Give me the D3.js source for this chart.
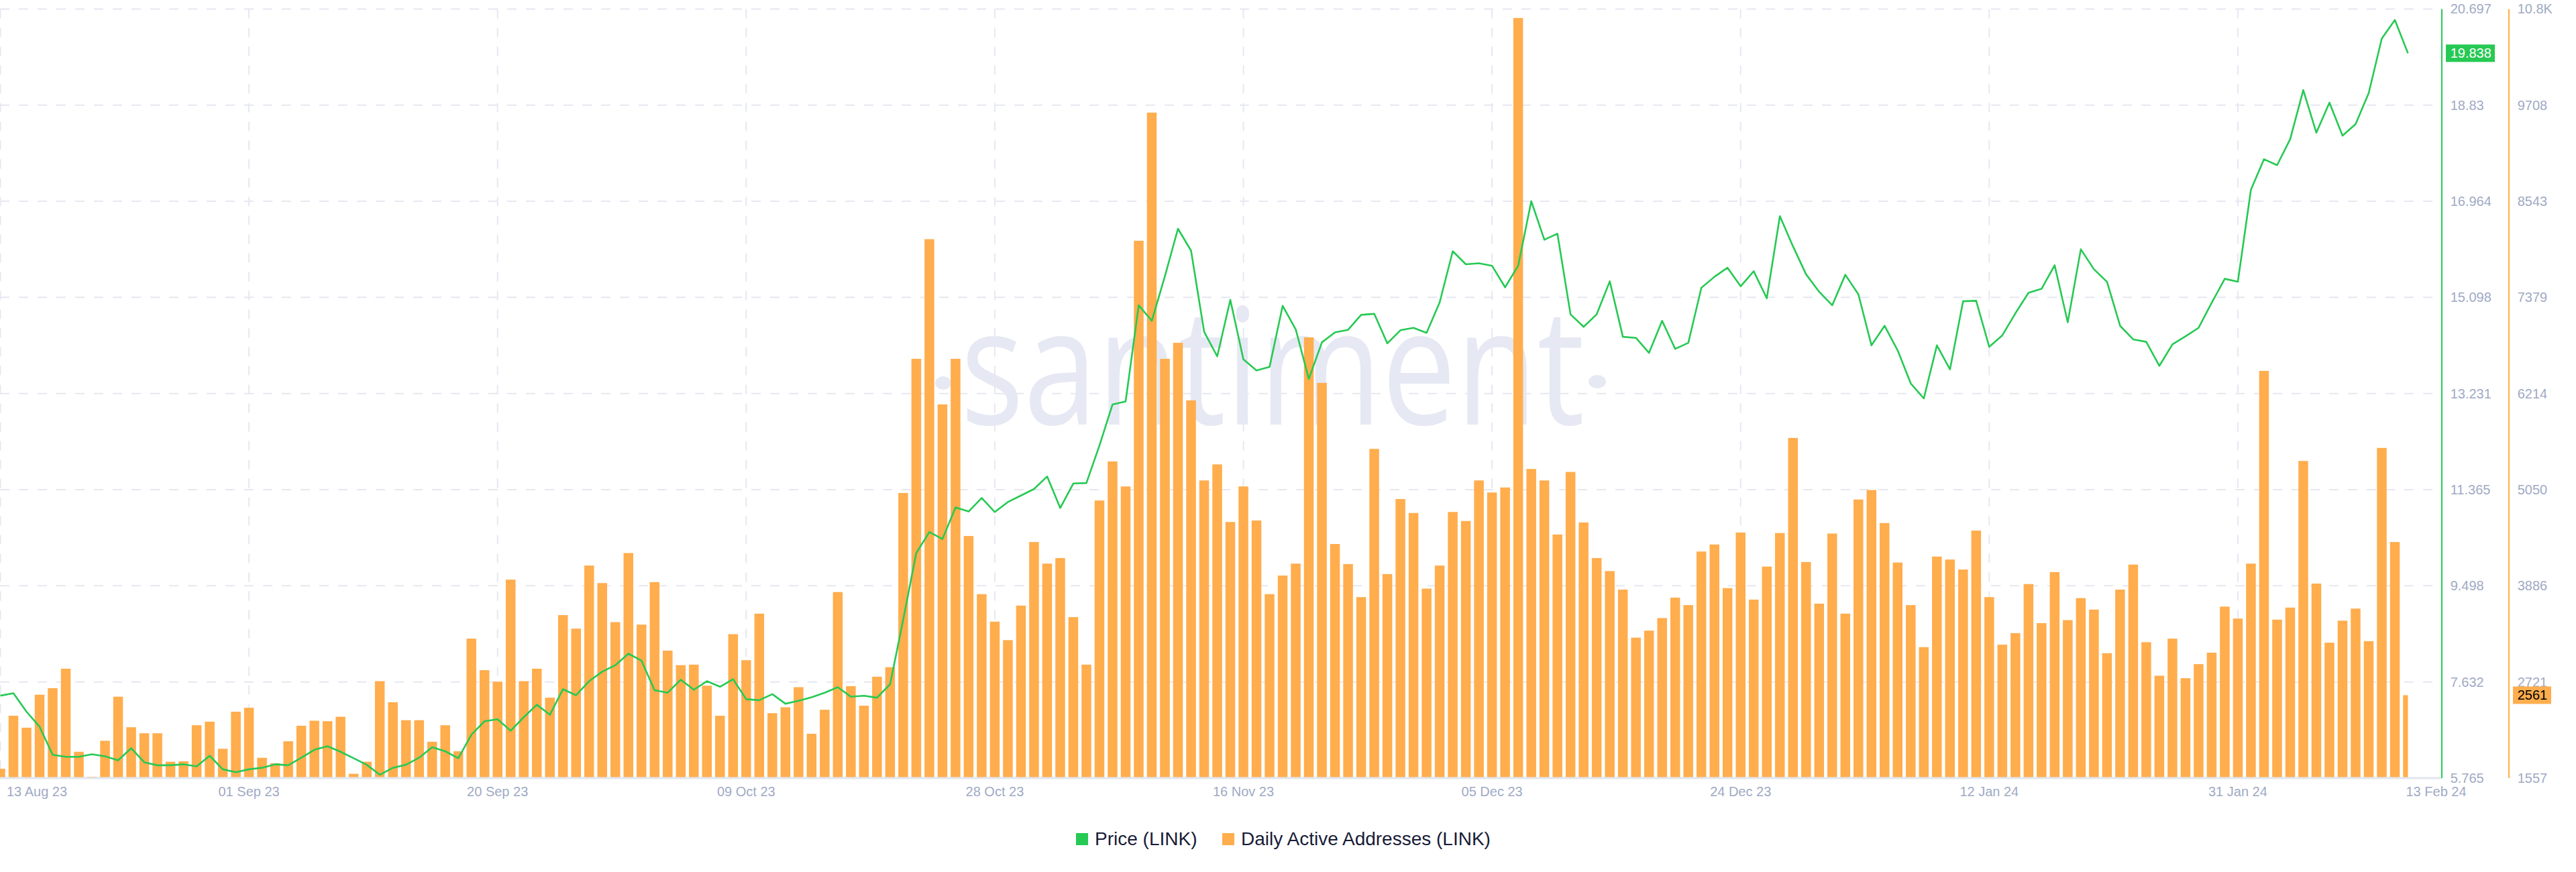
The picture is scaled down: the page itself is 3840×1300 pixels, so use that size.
<!DOCTYPE html>
<html>
<head>
<meta charset="utf-8">
<script src="https://cdn.jsdelivr.net/npm/d3@7"></script>
<style>
  html, body { margin: 0; padding: 0; background: #ffffff; }
  svg { display: block; }
</style>
</head>
<body>
<div id="chart"></div>
<script>
// ---------------- DATA ----------------
const startDate = "2023-08-13"; // first daily point, one point per day

const activeAddresses = [
  1670, 2312, 2167, 2567, 2646, 2882, 1876, 1573, 2009, 2543,
  2173, 2100, 2100, 1755, 1761, 2197, 2240, 1912, 2361, 2409,
  1803, 1737, 2003, 2191, 2252, 2246, 2300, 1609, 1755, 2731,
  2476, 2258, 2258, 1997, 2197, 1882, 3246, 2864, 2725, 3961,
  2731, 2882, 2531, 3531, 3367, 4131, 3919, 3446, 4283, 3416,
  3931, 3101, 2925, 2931, 2676, 2312, 3300, 2985, 3549, 2343,
  2415, 2658, 2094, 2385, 3810, 2670, 2434, 2785, 2900, 5010,
  6635, 8084, 6083, 6635, 4489, 3785, 3452, 3228, 3646, 4416,
  4155, 4222, 3507, 2931, 4919, 5392, 5089, 8065, 9617, 6635,
  6829, 6132, 5162, 5356, 4659, 5089, 4677, 3785, 4010, 4155,
  6895, 6344, 4392, 4149, 3749, 5544, 4028, 4937, 4768, 3852,
  4131, 4780, 4671, 5162, 5016, 5077, 10763, 5301, 5162, 4507,
  5265, 4653, 4222, 4064, 3840, 3258, 3343, 3495, 3743, 3652,
  4301, 4386, 3858, 4531, 3719, 4119, 4525, 5677, 4174, 3670,
  4519, 3549, 4931, 5046, 4646, 4168, 3652, 3143, 4240, 4204,
  4083, 4555, 3749, 3173, 3313, 3907, 3434, 4052, 3470, 3737,
  3598, 3070, 3840, 4143, 3203, 2797, 3246, 2767, 2937, 3076,
  3634, 3489, 4155, 6489, 3476, 3622, 5398, 3913, 3197, 3464,
  3610, 3216, 5556, 4416, 2561
];

const price = [
  7.365, 7.413, 7.054, 6.762, 6.218, 6.179, 6.179, 6.228, 6.189, 6.111,
  6.345, 6.072, 6.014, 6.014, 6.033, 5.994, 6.198, 5.936, 5.878, 5.936,
  5.965, 6.033, 6.014, 6.160, 6.315, 6.383, 6.276, 6.150, 6.024, 5.829,
  5.965, 6.024, 6.160, 6.364, 6.286, 6.150, 6.607, 6.869, 6.908, 6.685,
  6.947, 7.189, 6.995, 7.491, 7.374, 7.646, 7.831, 7.957, 8.181, 8.045,
  7.471, 7.423, 7.675, 7.481, 7.646, 7.539, 7.685, 7.297, 7.277, 7.394,
  7.209, 7.267, 7.335, 7.423, 7.530, 7.345, 7.364, 7.326, 7.588, 8.842,
  10.134, 10.542, 10.406, 11.019, 10.941, 11.203, 10.931, 11.125, 11.251, 11.378,
  11.621, 11.009, 11.485, 11.494, 12.223, 13.020, 13.078, 14.944, 14.643, 15.507,
  16.431, 16.004, 14.429, 13.953, 15.051, 13.894, 13.681, 13.749, 14.934, 14.477,
  13.515, 14.225, 14.419, 14.468, 14.759, 14.779, 14.205, 14.460, 14.507, 14.409,
  15.002, 15.994, 15.741, 15.760, 15.712, 15.294, 15.712, 16.965, 16.217, 16.334,
  14.769, 14.526, 14.769, 15.410, 14.332, 14.312, 14.021, 14.643, 14.098, 14.215,
  15.284, 15.498, 15.673, 15.313, 15.605, 15.080, 16.674, 16.090, 15.547, 15.207,
  14.944, 15.537, 15.158, 14.167, 14.546, 14.069, 13.428, 13.136, 14.167, 13.700,
  15.022, 15.032, 14.138, 14.361, 14.789, 15.187, 15.265, 15.721, 14.614, 16.032,
  15.644, 15.401, 14.546, 14.283, 14.235, 13.768, 14.186, 14.342, 14.507, 14.992,
  15.459, 15.401, 17.189, 17.781, 17.665, 18.170, 19.122, 18.296, 18.879, 18.238,
  18.462, 19.064, 20.123, 20.483, 19.838
];

const xTickDates  = ["2023-08-13","2023-09-01","2023-09-20","2023-10-09","2023-10-28","2023-11-16",
                     "2023-12-05","2023-12-24","2024-01-12","2024-01-31","2024-02-13"];
const xTickLabels = ["13 Aug 23","01 Sep 23","20 Sep 23","09 Oct 23","28 Oct 23","16 Nov 23",
                     "05 Dec 23","24 Dec 23","12 Jan 24","31 Jan 24","13 Feb 24"];

const priceTicks      = [5.765, 7.632, 9.498, 11.365, 13.231, 15.098, 16.964, 18.83, 20.697];
const priceTickLabels = ["5.765","7.632","9.498","11.365","13.231","15.098","16.964","18.83","20.697"];
const addrTicks       = [1557, 2721, 3886, 5050, 6214, 7379, 8543, 9708, 10872];
const addrTickLabels  = ["1557","2721","3886","5050","6214","7379","8543","9708","10.8K"];

const seriesNames = ["Price (LINK)", "Daily Active Addresses (LINK)"];

// ---------------- LAYOUT ----------------
const W = 3840, H = 1300;
const plotLeft = 0, plotRight = 3640, plotTop = 13.4, plotBottom = 1160;
const dataRight = 3589.5;
const GREEN = "#26c953", ORANGE = "#ffad4d", TICK = "#9faac4", GRID = "#e6e8f1";
const FONT = "'Liberation Sans', Arial, Helvetica, sans-serif";

const parseUTC = s => { const [y,m,d] = s.split("-").map(Number); return new Date(Date.UTC(y, m-1, d)); };
const t0 = parseUTC(startDate);
const dates = activeAddresses.map((_, i) => d3.utcDay.offset(t0, i));
const rows = dates.map((d, i) => ({ date: d, addr: activeAddresses[i], price: price[i] }));

const x = d3.scaleUtc().domain([dates[0], dates[dates.length - 1]]).range([0.5, dataRight]);
const yPrice = d3.scaleLinear().domain([priceTicks[0], priceTicks[priceTicks.length-1]]).range([plotBottom, plotTop]);
const yAddr  = d3.scaleLinear().domain([addrTicks[0], addrTicks[addrTicks.length-1]]).range([plotBottom, plotTop]);

const svg = d3.select("#chart").append("svg")
  .attr("width", W).attr("height", H).attr("viewBox", `0 0 ${W} ${H}`);

svg.append("defs").append("clipPath").attr("id", "dataclip")
  .append("rect").attr("x", 0).attr("y", 0).attr("width", dataRight).attr("height", plotBottom);

// horizontal grid
svg.append("g").selectAll("line").data(priceTicks.slice(1)).join("line")
  .attr("x1", plotLeft).attr("x2", plotRight)
  .attr("y1", d => yPrice(d)).attr("y2", d => yPrice(d))
  .attr("stroke", GRID).attr("stroke-width", 2).attr("stroke-dasharray", "14 14");

// vertical grid
const tickDates = xTickDates.map(parseUTC);
svg.append("g").selectAll("line").data(tickDates.slice(0, -1)).join("line")
  .attr("x1", d => x(d)).attr("x2", d => x(d))
  .attr("y1", plotTop).attr("y2", plotBottom)
  .attr("stroke", GRID).attr("stroke-width", 2).attr("stroke-dasharray", "14 14");

// watermark
const wm = svg.append("g").attr("fill", "#e6e9f3");
wm.append("text").attr("x", 1432).attr("y", 633)
  .attr("font-family", "'Open Sans', sans-serif").attr("font-size", 242)
  .attr("textLength", 930).attr("lengthAdjust", "spacingAndGlyphs")
  .text("santiment");
wm.append("ellipse").attr("cx", 1406).attr("cy", 571).attr("rx", 12).attr("ry", 10);
wm.append("ellipse").attr("cx", 2381).attr("cy", 569).attr("rx", 13).attr("ry", 10);

// bars
const barW = 14.5;
svg.append("g").attr("clip-path", "url(#dataclip)")
  .selectAll("rect").data(rows).join("rect")
  .attr("x", d => x(d.date) - barW / 2)
  .attr("width", barW)
  .attr("y", d => yAddr(d.addr))
  .attr("height", d => plotBottom - yAddr(d.addr))
  .attr("fill", ORANGE);

// price line
svg.append("path").datum(rows)
  .attr("fill", "none").attr("stroke", GREEN).attr("stroke-width", 2.6)
  .attr("stroke-linejoin", "round")
  .attr("d", d3.line().x(d => x(d.date)).y(d => yPrice(d.price)));

// x axis baseline
svg.append("line").attr("x1", 0).attr("x2", plotRight)
  .attr("y1", plotBottom).attr("y2", plotBottom)
  .attr("stroke", "#e2e5ee").attr("stroke-width", 3);

// x tick labels
svg.append("g").selectAll("text").data(tickDates).join("text")
  .attr("x", (d, i) => i === 0 ? 10 : (i === tickDates.length - 1 ? x(d) - 3 : x(d)))
  .attr("y", 1187)
  .attr("text-anchor", (d, i) => (i === 0 || i === tickDates.length - 1) ? "start" : "middle")
  .attr("font-family", FONT).attr("font-size", 20).attr("fill", TICK)
  .text((d, i) => xTickLabels[i]);

// right axes lines
svg.append("line").attr("x1", plotRight).attr("x2", plotRight)
  .attr("y1", plotTop).attr("y2", plotBottom).attr("stroke", GREEN).attr("stroke-width", 2);
svg.append("line").attr("x1", 3740).attr("x2", 3740)
  .attr("y1", plotTop).attr("y2", plotBottom).attr("stroke", ORANGE).attr("stroke-width", 2);

// price axis labels
svg.append("g").selectAll("text").data(priceTicks).join("text")
  .attr("x", 3652.7).attr("y", d => yPrice(d)).attr("dy", "0.35em")
  .attr("font-family", FONT).attr("font-size", 20).attr("fill", TICK)
  .text((d, i) => priceTickLabels[i]);

// addresses axis labels
svg.append("g").selectAll("text").data(addrTicks).join("text")
  .attr("x", 3752.7).attr("y", d => yAddr(d)).attr("dy", "0.35em")
  .attr("font-family", FONT).attr("font-size", 20).attr("fill", TICK)
  .text((d, i) => addrTickLabels[i]);

// last value badges
const last = rows[rows.length - 1];
const pY = yPrice(last.price);
svg.append("rect").attr("x", 3646).attr("y", pY - 13).attr("width", 73).attr("height", 26).attr("fill", GREEN);
svg.append("text").attr("x", 3652.7).attr("y", pY).attr("dy", "0.35em")
  .attr("font-family", FONT).attr("font-size", 20).attr("fill", "#ffffff")
  .text(d3.format(".3f")(last.price));
const aY = yAddr(last.addr);
svg.append("rect").attr("x", 3746).attr("y", aY - 13).attr("width", 57).attr("height", 26).attr("fill", ORANGE);
svg.append("text").attr("x", 3752.7).attr("y", aY).attr("dy", "0.35em")
  .attr("font-family", FONT).attr("font-size", 20).attr("fill", "#000000")
  .text(String(last.addr));

// legend
const legend = svg.append("g");
const legendItems = [
  { name: seriesNames[0], color: GREEN, x: 1604 },
  { name: seriesNames[1], color: ORANGE, x: 1822 }
];
legendItems.forEach(it => {
  legend.append("rect").attr("x", it.x).attr("y", 1242).attr("width", 18).attr("height", 18).attr("fill", it.color);
  legend.append("text").attr("x", it.x + 28).attr("y", 1260)
    .attr("font-family", FONT).attr("font-size", 28).attr("fill", "#181c36")
    .text(it.name);
});
</script>
</body>
</html>
